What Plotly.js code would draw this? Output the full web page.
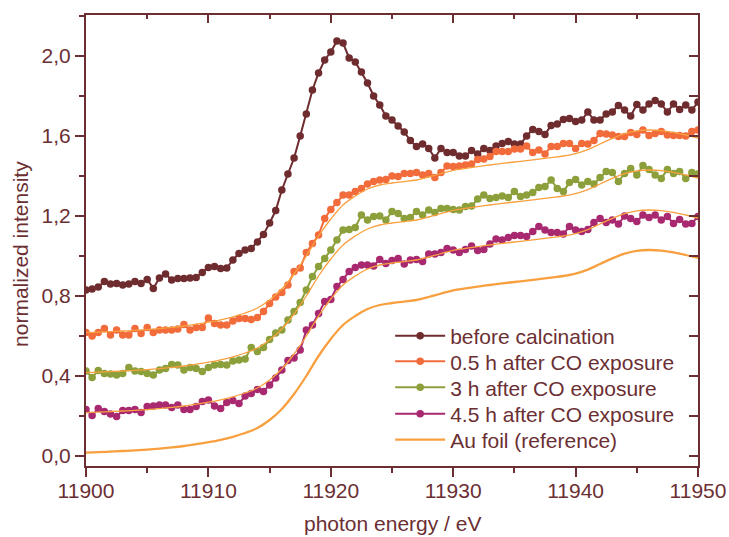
<!DOCTYPE html>
<html><head><meta charset="utf-8">
<script src="https://cdn.plot.ly/plotly-3.0.1.min.js"></script>
<style>html,body{margin:0;padding:0;background:#fff}#chart{width:729px;height:537px}</style>
</head><body><div id="chart"></div>
<script>
// photon energy (eV) of the measured points
const energy = [
11900,11900.5,11901,11901.5,11902,11902.5,11903,11903.5,11904,11904.5,
11905,11905.5,11906,11906.5,11907,11907.5,11908,11908.5,11909,11909.5,
11910,11910.5,11911,11911.5,11912,11912.5,11913,11913.5,11914,11914.5,
11915,11915.5,11916,11916.5,11917,11917.5,11918,11918.5,11919,11919.5,
11920,11920.5,11921,11921.5,11922,11922.5,11923,11923.5,11924,11924.5,
11925,11925.5,11926,11926.5,11927,11927.5,11928,11928.5,11929,11929.5,
11930,11930.5,11931,11931.5,11932,11932.5,11933,11933.5,11934,11934.5,
11935,11935.5,11936,11936.5,11937,11937.5,11938,11938.5,11939,11939.5,
11940,11940.5,11941,11941.5,11942,11942.5,11943,11943.5,11944,11944.5,
11945,11945.5,11946,11946.5,11947,11947.5,11948,11948.5,11949,11949.5,
11950];

const beforeCalcination = [
0.830,0.835,0.845,0.872,0.860,0.863,0.855,0.860,0.873,0.863,
0.883,0.838,0.890,0.910,0.880,0.888,0.888,0.890,0.893,0.917,
0.943,0.947,0.938,0.940,0.980,1.013,1.030,1.037,1.070,1.108,
1.165,1.227,1.330,1.410,1.490,1.600,1.710,1.830,1.915,1.980,
2.020,2.075,2.065,1.990,1.970,1.920,1.865,1.800,1.755,1.700,
1.680,1.650,1.620,1.577,1.547,1.560,1.538,1.490,1.538,1.517,
1.517,1.500,1.500,1.527,1.510,1.538,1.527,1.550,1.563,1.572,
1.560,1.560,1.600,1.633,1.622,1.608,1.653,1.660,1.683,1.687,
1.672,1.680,1.720,1.680,1.680,1.710,1.720,1.753,1.730,1.700,
1.757,1.730,1.760,1.777,1.760,1.720,1.760,1.733,1.755,1.730,
1.770];

const after05h = [
0.617,0.600,0.617,0.638,0.605,0.630,0.605,0.605,0.638,0.613,
0.643,0.618,0.630,0.630,0.630,0.635,0.658,0.630,0.642,0.642,
0.690,0.663,0.655,0.655,0.675,0.688,0.687,0.683,0.692,0.722,
0.763,0.795,0.818,0.855,0.922,0.940,1.017,1.063,1.105,1.188,
1.233,1.267,1.305,1.305,1.322,1.338,1.360,1.372,1.380,1.383,
1.400,1.397,1.413,1.413,1.417,1.405,1.413,1.393,1.417,1.450,
1.447,1.450,1.455,1.460,1.483,1.485,1.497,1.522,1.522,1.522,
1.535,1.535,1.550,1.517,1.530,1.510,1.547,1.547,1.563,1.563,
1.538,1.563,1.560,1.577,1.613,1.610,1.605,1.597,1.597,1.617,
1.608,1.630,1.602,1.613,1.622,1.605,1.602,1.602,1.600,1.622,
1.630];

const after3h = [
0.425,0.393,0.427,0.413,0.410,0.405,0.413,0.443,0.425,0.422,
0.413,0.405,0.430,0.438,0.458,0.455,0.430,0.442,0.438,0.422,
0.443,0.455,0.458,0.455,0.475,0.480,0.485,0.543,0.522,0.543,
0.583,0.615,0.630,0.680,0.722,0.767,0.830,0.897,0.947,0.988,
1.030,1.080,1.130,1.133,1.143,1.205,1.180,1.197,1.200,1.180,
1.222,1.213,1.188,1.193,1.222,1.205,1.230,1.217,1.238,1.238,
1.233,1.230,1.247,1.250,1.285,1.305,1.288,1.293,1.300,1.293,
1.322,1.297,1.305,1.317,1.343,1.347,1.380,1.338,1.322,1.367,
1.383,1.355,1.372,1.360,1.393,1.422,1.417,1.372,1.413,1.438,
1.405,1.452,1.433,1.405,1.388,1.433,1.413,1.422,1.388,1.418,
1.410];

const after45h = [
0.233,0.202,0.238,0.222,0.210,0.197,0.227,0.227,0.233,0.217,
0.247,0.250,0.255,0.255,0.243,0.255,0.233,0.233,0.247,0.272,
0.280,0.250,0.238,0.267,0.277,0.263,0.300,0.313,0.333,0.322,
0.355,0.390,0.430,0.477,0.490,0.530,0.630,0.655,0.713,0.772,
0.783,0.847,0.883,0.922,0.943,0.955,0.955,0.950,0.983,0.963,
0.977,0.988,0.960,0.980,0.983,0.972,1.010,1.010,1.017,1.038,
1.030,1.017,1.033,1.050,1.027,1.033,1.060,1.085,1.080,1.093,
1.102,1.102,1.097,1.122,1.147,1.130,1.117,1.117,1.110,1.147,
1.130,1.122,1.133,1.167,1.188,1.167,1.180,1.160,1.200,1.188,
1.172,1.205,1.193,1.205,1.180,1.197,1.163,1.183,1.160,1.163,
1.197];

// Au foil reference spectrum
const auEnergy = [
11900,11901,11902,11903,11904,11905,11906,11907,11908,11909,
11910,11911,11912,11913,11914,11915,11916,11917,11918,11919,
11920,11921,11922,11923,11924,11925,11926,11927,11928,11929,
11930,11931,11932,11933,11934,11935,11936,11937,11938,11939,
11940,11941,11942,11943,11944,11945,11946,11947,11948,11949,
11950];
const auFoil = [
0.017,0.019,0.022,0.025,0.028,0.032,0.037,0.043,0.050,0.059,
0.069,0.081,0.096,0.115,0.140,0.180,0.235,0.310,0.400,0.500,
0.585,0.655,0.700,0.735,0.755,0.765,0.772,0.780,0.795,0.812,
0.828,0.838,0.847,0.855,0.863,0.870,0.877,0.884,0.892,0.900,
0.912,0.932,0.960,0.988,1.012,1.026,1.030,1.027,1.018,1.005,
0.990];

// vertical offsets of the reference overlaid on each sample spectrum
const refOffsets = [0.6, 0.4, 0.2];

const seriesNames = ['before calcination','0.5 h after CO exposure','3 h after CO exposure','4.5 h after CO exposure'];
const seriesData = [beforeCalcination, after05h, after3h, after45h];
const seriesColors = ['#6e2c2f','#f26b3b','#8b9f3a','#a8296f'];
const auName = 'Au foil (reference)';
const auColor = '#f8a03f';
const axisColor = '#6b2f33';
const FONT = 'Liberation Sans, Arial, sans-serif';

// one legend box per entry so the row spacing matches the original
const legendIds = ['legend','legend2','legend3','legend4','legend5'];
const legendRowY = [0.2882, 0.2313, 0.1736, 0.1153, 0.0576];

const traces = [];
seriesData.forEach((vals, i) => {
  traces.push({
    x: energy, y: vals, name: seriesNames[i], type: 'scatter', mode: 'lines+markers',
    line: {color: seriesColors[i], width: 2},
    marker: {color: seriesColors[i], size: 7.5},
    legend: legendIds[i], hoverinfo: 'skip'
  });
});
refOffsets.forEach(off => {
  traces.push({
    x: auEnergy, y: auFoil.map(v => v + off), type: 'scatter', mode: 'lines',
    line: {color: auColor, width: 1.3, shape: 'spline'},
    showlegend: false, hoverinfo: 'skip'
  });
});
traces.push({
  x: auEnergy, y: auFoil, name: auName, type: 'scatter', mode: 'lines',
  line: {color: auColor, width: 2.3, shape: 'spline'}, legend: legendIds[4], hoverinfo: 'skip'
});
// dummy trace to carry the mirrored top/right axes
traces.push({x: [11900], y: [-1], xaxis: 'x2', yaxis: 'y2', mode: 'markers',
  marker: {opacity: 0}, showlegend: false, hoverinfo: 'skip'});

const xRange = [11900, 11950];
const yRange = [-0.05, 2.205];
const tickFont = {family: FONT, size: 21, color: axisColor};

const layout = {
  width: 729, height: 537,
  margin: {l: 86, r: 31, t: 15, b: 71},
  paper_bgcolor: '#ffffff', plot_bgcolor: '#ffffff',
  separators: ',.',
  font: {family: FONT, size: 21, color: axisColor},
  showlegend: true,
  xaxis: {range: xRange, tick0: 11900, dtick: 10, tickformat: '.0f', ticks: 'outside', ticklen: 9, tickwidth: 2,
    tickcolor: axisColor, showline: true, linecolor: axisColor, linewidth: 2,
    showgrid: false, zeroline: false, tickfont: tickFont, ticklabelstandoff: -4,
    minor: {tick0: 11900, dtick: 5, ticks: 'outside', ticklen: 5, tickwidth: 2, tickcolor: axisColor, showgrid: false}},
  yaxis: {range: yRange, tick0: 0, dtick: 0.4, tickformat: '.1f', ticks: 'outside', ticklen: 9, tickwidth: 2,
    tickcolor: axisColor, showline: true, linecolor: axisColor, linewidth: 2,
    showgrid: false, zeroline: false, tickfont: tickFont,
    minor: {tick0: 0, dtick: 0.2, ticks: 'outside', ticklen: 5, tickwidth: 2, tickcolor: axisColor, showgrid: false}},
  xaxis2: {overlaying: 'x', side: 'top', range: xRange, tick0: 11900, dtick: 10, ticks: 'inside', ticklen: 8,
    tickwidth: 2, tickcolor: axisColor, showline: true, linecolor: axisColor, linewidth: 2,
    showticklabels: false, showgrid: false, zeroline: false,
    minor: {tick0: 11900, dtick: 5, ticks: 'inside', ticklen: 4, tickwidth: 2, tickcolor: axisColor, showgrid: false}},
  yaxis2: {overlaying: 'y', side: 'right', range: yRange, tick0: 0, dtick: 0.4, ticks: 'inside', ticklen: 9,
    tickwidth: 2, tickcolor: axisColor, showline: true, linecolor: axisColor, linewidth: 2,
    showticklabels: false, showgrid: false, zeroline: false,
    minor: {tick0: 0, dtick: 0.2, ticks: 'inside', ticklen: 9, tickwidth: 2, tickcolor: axisColor, showgrid: false}},
  annotations: [
    {text: 'normalized intensity', xref: 'paper', yref: 'paper', x: -0.108, y: 0.47,
     xanchor: 'center', yanchor: 'middle', textangle: -90, showarrow: false,
     font: {family: FONT, size: 21, color: axisColor}},
    {text: 'photon energy / eV', xref: 'paper', yref: 'paper', x: 0.5, y: -0.1275,
     xanchor: 'center', yanchor: 'middle', showarrow: false,
     font: {family: FONT, size: 21, color: axisColor}}
  ]
};
legendIds.forEach((id, i) => {
  layout[id] = {x: 0.497, y: legendRowY[i], xanchor: 'left', yanchor: 'middle',
    bgcolor: 'rgba(0,0,0,0)', borderwidth: 0,
    font: {family: FONT, size: 21, color: axisColor}, itemwidth: 50};
});

Plotly.newPlot('chart', traces, layout, {displayModeBar: false, staticPlot: true});
</script>
</body></html>
